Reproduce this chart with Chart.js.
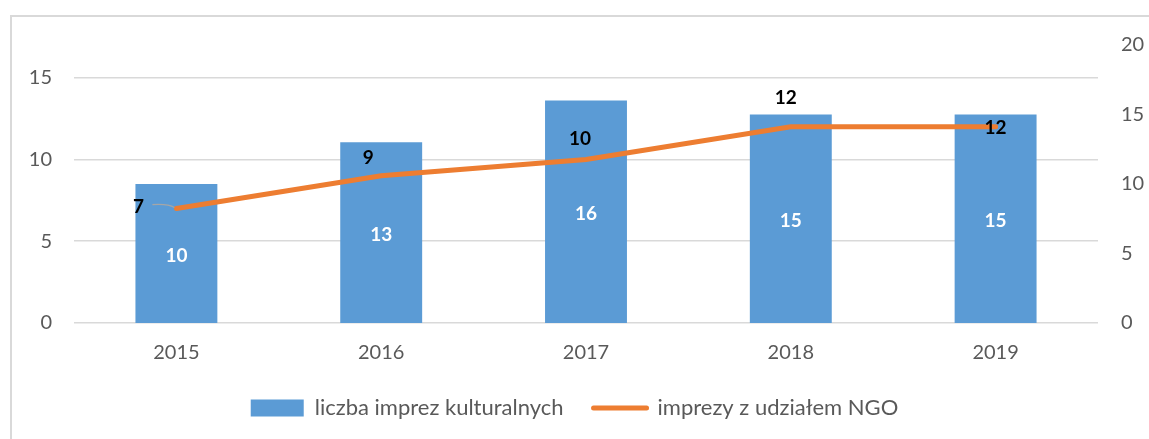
<!DOCTYPE html>
<html>
<head>
<meta charset="utf-8">
<script src="https://cdn.jsdelivr.net/npm/chart.js@4.4.1/dist/chart.umd.min.js"></script>
<style>
  html, body { margin: 0; padding: 0; background: #fff; overflow: hidden; }
  #frame {
    position: absolute; left: 10px; top: 15px; width: 1200px; height: 500px;
    border-left: 2px solid #d9d9d9; border-top: 2px solid #d9d9d9;
  }
  #chart { position: absolute; left: 0; top: 0; }
</style>
</head>
<body>
<div id="frame"></div>
<canvas id="chart" width="1149" height="439"></canvas>
<script>
  const years = ['2015', '2016', '2017', '2018', '2019'];
  const eventsTotal = [10, 13, 16, 15, 15];   // liczba imprez kulturalnych (right axis)
  const eventsNgo = [7, 9, 10, 12, 12];       // imprezy z udziałem NGO (left axis)
  const leftTicks = [0, 5, 10, 15];
  const rightTicks = [0, 5, 10, 15, 20];

  // where the NGO value labels sit relative to their point (dx, dy)
  const ngoLabelShift = [[-38, -2], [-13, -18], [-6, -21], [-5, -29], [0, 1]];

  const fontFamily = 'Lato, "Open Sans", sans-serif';
  const grey = '#595959';

  // draws the value labels like the excel data labels
  const valueLabels = {
    id: 'valueLabels',
    afterDatasetsDraw(chart) {
      const ctx = chart.ctx;
      ctx.save();
      ctx.textAlign = 'center';
      ctx.textBaseline = 'middle';
      ctx.font = 'bold 19px ' + fontFamily;

      // white labels in the middle of each bar
      const bars = chart.getDatasetMeta(0).data;
      bars.forEach((bar, i) => {
        ctx.fillStyle = '#ffffff';
        ctx.fillText(eventsTotal[i], bar.x, (bar.y + bar.base) / 2 + 2);
      });

      // black labels near the line points
      const pts = chart.getDatasetMeta(1).data;
      pts.forEach((pt, i) => {
        const [dx, dy] = ngoLabelShift[i];
        if (i === 0) {
          // little leader line for the first label
          ctx.strokeStyle = '#a6a6a6';
          ctx.lineWidth = 1.2;
          ctx.beginPath();
          ctx.moveTo(pt.x + dx + 14, pt.y - 4);
          ctx.quadraticCurveTo(pt.x - 8, pt.y - 5, pt.x - 2, pt.y - 1);
          ctx.stroke();
        }
        ctx.fillStyle = '#000000';
        ctx.fillText(eventsNgo[i], pt.x + dx, pt.y + dy);
      });
      ctx.restore();
    }
  };

  const ctx = document.getElementById('chart').getContext('2d');
  const chart = new Chart(ctx, {
    data: {
      labels: years,
      datasets: [
        {
          type: 'bar',
          label: 'liczba imprez kulturalnych',
          data: eventsTotal,
          yAxisID: 'y1',
          backgroundColor: '#5b9bd5',
          borderWidth: 0,
          barPercentage: 0.4,
          categoryPercentage: 1,
          order: 2
        },
        {
          type: 'line',
          label: 'imprezy z udziałem NGO',
          data: eventsNgo,
          yAxisID: 'y',
          borderColor: '#ed7d31',
          backgroundColor: '#ed7d31',
          borderWidth: 5,
          borderCapStyle: 'round',
          pointRadius: 0,
          tension: 0,
          order: 1
        }
      ]
    },
    options: {
      responsive: false,
      animation: false,
      layout: { padding: { top: 45, bottom: 10, left: 0, right: 0 } },
      scales: {
        x: {
          grid: { display: false },
          border: { display: false },
          ticks: { color: grey, font: { family: fontFamily, size: 20 }, padding: 10 },
          afterFit: s => { s.height = 44; }
        },
        y: {
          position: 'left',
          min: 0,
          max: 17,
          afterBuildTicks: s => { s.ticks = leftTicks.map(v => ({ value: v })); },
          grid: { color: '#d9d9d9', lineWidth: 1.5, drawTicks: false },
          border: { display: false },
          ticks: { color: grey, font: { family: fontFamily, size: 20 }, padding: 22 },
          afterFit: s => { s.width = 74; }
        },
        y1: {
          position: 'right',
          min: 0,
          max: 20,
          afterBuildTicks: s => { s.ticks = rightTicks.map(v => ({ value: v })); },
          grid: { display: false, drawTicks: false },
          border: { display: false },
          ticks: { color: grey, font: { family: fontFamily, size: 20 }, padding: 23 },
          afterFit: s => { s.width = 51; }
        }
      },
      plugins: {
        legend: {
          position: 'bottom',
          labels: {
            color: grey,
            font: { family: fontFamily, size: 22 },
            usePointStyle: true,
            pointStyleWidth: 53,
            boxHeight: 17,
            padding: 30,
            generateLabels: c => {
              const items = Chart.defaults.plugins.legend.labels.generateLabels(c);
              items.sort((a, b) => a.datasetIndex - b.datasetIndex);
              items.forEach(it => {
                if (it.datasetIndex === 0) {
                  it.pointStyle = 'rect';
                  it.lineWidth = 0;
                } else {
                  it.pointStyle = 'line';
                  it.lineCap = 'round';
                }
              });
              return items;
            }
          }
        },
        tooltip: { enabled: false }
      }
    },
    plugins: [valueLabels]
  });
</script>
</body>
</html>
